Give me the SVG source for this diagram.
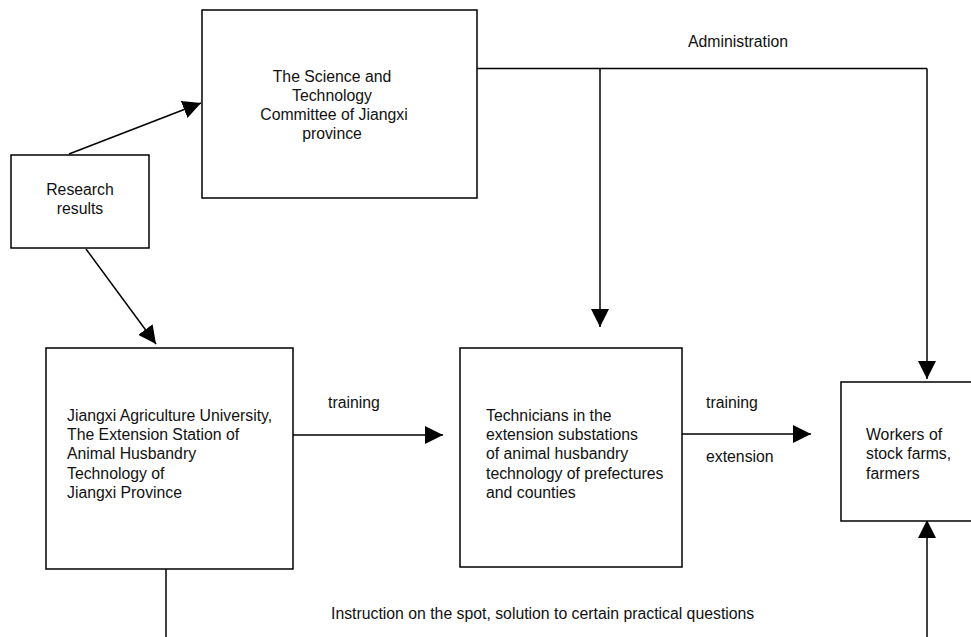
<svg xmlns="http://www.w3.org/2000/svg" width="971" height="637" viewBox="0 0 971 637">
<style>
.box{fill:#fff;stroke:#000;stroke-width:1.5}
.ln{fill:none;stroke:#000;stroke-width:1.5}
.arr{marker-end:url(#ah)}
text{font-family:"Liberation Sans",Arial,sans-serif;font-size:15.8px;fill:#111}
.c{text-anchor:middle}
</style>
<defs>
<marker id="ah" markerUnits="userSpaceOnUse" markerWidth="18" markerHeight="18" refX="18" refY="9" orient="auto">
<path d="M0,0 L18,9 L0,18 z" fill="#000"/>
</marker>
</defs>
<rect width="971" height="637" fill="#fff"/>
<g id="connectors">
<line class="ln arr" x1="69" y1="154" x2="201" y2="103"/>
<line class="ln arr" x1="86" y1="249" x2="156" y2="344"/>
<polyline class="ln" points="477,68.5 927,68.5"/>
<line class="ln arr" x1="600" y1="68.5" x2="600" y2="327"/>
<line class="ln arr" x1="927" y1="68.5" x2="927" y2="379"/>
<line class="ln arr" x1="293" y1="435" x2="443" y2="435"/>
<line class="ln arr" x1="682" y1="434" x2="811" y2="434"/>
<line class="ln" x1="166" y1="569" x2="166" y2="637"/>
<line class="ln arr" x1="927" y1="637" x2="927" y2="520"/>
<text x="688" y="47">Administration</text>
<text x="328" y="408">training</text>
<text x="706" y="408">training</text>
<text x="706" y="462">extension</text>
<text x="331" y="619">Instruction on the spot, solution to certain practical questions</text>
</g>
<g id="research">
<rect class="box" x="11" y="155" width="138" height="93"/>
<text class="c" x="80" y="195">Research</text>
<text class="c" x="80" y="214">results</text>
</g>
<g id="committee">
<rect class="box" x="202" y="10" width="275" height="188"/>
<text class="c" x="332" y="82">The Science and</text>
<text class="c" x="332" y="101">Technology</text>
<text class="c" x="334" y="120">Committee of Jiangxi</text>
<text class="c" x="332" y="139">province</text>
</g>
<g id="university">
<rect class="box" x="46" y="348" width="247" height="221"/>
<text x="67" y="421">Jiangxi Agriculture University,</text>
<text x="67" y="440">The Extension Station of</text>
<text x="67" y="459">Animal Husbandry</text>
<text x="67" y="479">Technology of</text>
<text x="67" y="498">Jiangxi Province</text>
</g>
<g id="technicians">
<rect class="box" x="460" y="348" width="222" height="219"/>
<text x="486" y="421">Technicians in the</text>
<text x="486" y="440">extension substations</text>
<text x="486" y="459">of animal husbandry</text>
<text x="486" y="479">technology of prefectures</text>
<text x="486" y="498">and counties</text>
</g>
<g id="workers">
<rect class="box" x="841" y="382" width="140" height="139"/>
<text x="866" y="440">Workers of</text>
<text x="866" y="459">stock farms,</text>
<text x="866" y="479">farmers</text>
</g>
</svg>
